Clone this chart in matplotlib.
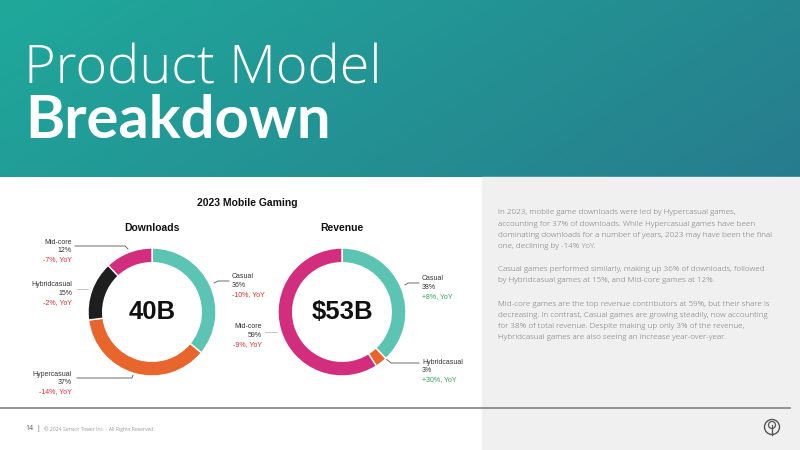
import numpy as np
import matplotlib
matplotlib.use("Agg")
from matplotlib import pyplot as plt
from matplotlib.patches import Rectangle, Circle
from matplotlib.colors import LinearSegmentedColormap

# data
dl_labels = ['Casual', 'Hypercasual', 'Hybridcasual', 'Mid-core']
dl_share = [36, 37, 15, 12]
dl_yoy = [-10, -14, -2, -7]
rev_labels = ['Casual', 'Hybridcasual', 'Mid-core']
rev_share = [38, 3, 59]
rev_yoy = [8, 30, -9]
dl_total = '40B'
rev_total = '$53B'

dl_colors = ['#5bc4b3', '#e8652d', '#1e1e1e', '#d32e7e']
rev_colors = ['#5bc4b3', '#e8652d', '#d32e7e']

body = [
    "In 2023, mobile game downloads were led by Hypercasual games,",
    "accounting for 37% of downloads. While Hypercasual games have been",
    "dominating downloads for a number of years, 2023 may have been the final",
    "one, declining by -14% YoY.",
    "",
    "Casual games performed similarly, making up 36% of downloads, followed",
    "by Hybridcasual games at 15%, and Mid-core games at 12%.",
    "",
    "Mid-core games are the top revenue contributors at 59%, but their share is",
    "decreasing. In contrast, Casual games are growing steadily, now accounting",
    "for 38% of total revenue. Despite making up only 3% of the revenue,",
    "Hybridcasual games are also seeing an increase year-over-year.",
]

W, H = 800, 450
fig = plt.figure(figsize=(8, 4.5), dpi=100)
fig.patch.set_facecolor('white')

# overlay in pixel coords
bg = fig.add_axes([0, 0, 1, 1])
bg.axis('off')

# header gradient
gx, gy = np.meshgrid(np.linspace(0, 1, 200), np.linspace(0, 1, 60))
grad = 0.75 * gx + 0.25 * gy
cmap = LinearSegmentedColormap.from_list('hdr', ['#1fa99b', '#277c8d'])
bg.imshow(grad, cmap=cmap, extent=[0, W, 177, 0], aspect='auto', zorder=0)
bg.set_xlim(0, W)
bg.set_ylim(H, 0)

# right grey panel
bg.add_patch(Rectangle((482, 177), W - 482, H - 177, color='#f0f0f0', zorder=0))

bg.text(24, 83, 'Product Model', fontsize=39, family='Open Sans', weight='light',
        color='white', va='baseline')
bg.text(25, 138, 'Breakdown', fontsize=43, family='Lato', weight='bold',
        color='white', va='baseline')

# footer
bg.plot([0, 790], [408, 408], color='#8a8a8a', lw=1.3)
bg.text(25, 429, '14', fontsize=5, family='Open Sans', color='#555555', va='center')
bg.text(36, 429, '|', fontsize=5, family='Open Sans', color='#555555', va='center')
bg.text(44, 429, '\u00a9 2024 Sensor Tower Inc. - All Rights Reserved', fontsize=3.8,
        family='Open Sans', weight='light', color='#666666', va='center')
bg.add_patch(Circle((772, 427), 7.5, fill=False, ec='#555555', lw=1))
bg.add_patch(Circle((772, 425), 3.5, fill=False, ec='#555555', lw=0.9))
bg.plot([772, 772], [425, 434.5], color='#555555', lw=0.9)

# body text
y = 213
for line in body:
    if line:
        bg.text(498, y, line, fontsize=5.8, family='Open Sans', weight='light',
                color='#727272', va='center')
    y += 11.2 if line else 12

# chart titles
bg.text(247, 203, '2023 Mobile Gaming', fontsize=7.5, weight='bold',
        family='Liberation Sans', ha='center', va='center', color='#111111')
bg.text(152, 228, 'Downloads', fontsize=7.5, weight='bold',
        family='Liberation Sans', ha='center', va='center', color='#111111')
bg.text(342, 228, 'Revenue', fontsize=7.5, weight='bold',
        family='Liberation Sans', ha='center', va='center', color='#111111')


def donut(cx, cy, r, vals, cols, total):
    ax = fig.add_axes([(cx - r) / W, 1 - (cy + r) / H, 2 * r / W, 2 * r / H])
    ax.pie(vals, colors=cols, startangle=90, counterclock=False, radius=1,
           wedgeprops=dict(width=0.23, edgecolor='white', linewidth=1))
    ax.set_xlim(-1, 1)
    ax.set_ylim(-1, 1)
    ax.set_aspect('auto')
    ax.text(0, 0, total, ha='center', va='center', fontsize=18.5,
            weight='bold', family='Liberation Sans', color='#111111')
    return ax


donut(152, 312, 64, dl_share, dl_colors, dl_total)
donut(342, 312, 64, rev_share, rev_colors, rev_total)


def label(x, y, name, share, yoy, ha):
    kw = dict(fontsize=5.0, family='Liberation Sans', ha=ha, va='center')
    bg.text(x, y, name, color='#333333', **kw)
    bg.text(x, y + 8.5, f'{share}%', color='#333333', **kw)
    c = '#2fa05a' if yoy > 0 else '#e0282e'
    bg.text(x, y + 18, f'{yoy:+d}%, YoY', color=c, **kw)


# downloads labels
i = dl_labels.index
label(72, 242, 'Mid-core', dl_share[i('Mid-core')], dl_yoy[i('Mid-core')], 'right')
label(72, 285, 'Hybridcasual', dl_share[i('Hybridcasual')], dl_yoy[i('Hybridcasual')], 'right')
label(72, 374, 'Hypercasual', dl_share[i('Hypercasual')], dl_yoy[i('Hypercasual')], 'right')
label(232, 277, 'Casual', dl_share[i('Casual')], dl_yoy[i('Casual')], 'left')
lc = '#555555'
bg.plot([75, 125, 128], [246, 246, 249], color=lc, lw=0.6)
bg.plot([77, 88], [289, 289], color='#bbbbbb', lw=0.6)
bg.plot([77, 132, 133], [378, 378, 375], color=lc, lw=0.6)
bg.plot([214, 218, 229], [283, 281, 281], color=lc, lw=0.6)

# revenue labels
j = rev_labels.index
label(422, 279, 'Casual', rev_share[j('Casual')], rev_yoy[j('Casual')], 'left')
label(262, 327, 'Mid-core', rev_share[j('Mid-core')], rev_yoy[j('Mid-core')], 'right')
label(422, 362, 'Hybridcasual', rev_share[j('Hybridcasual')], rev_yoy[j('Hybridcasual')], 'left')
bg.plot([405, 408, 419], [285, 283, 283], color=lc, lw=0.6)
bg.plot([265, 277], [332, 332], color='#bbbbbb', lw=0.6)
bg.plot([385, 391, 419], [358, 363, 363], color=lc, lw=0.6)

fig.savefig('out.png', dpi=100)
